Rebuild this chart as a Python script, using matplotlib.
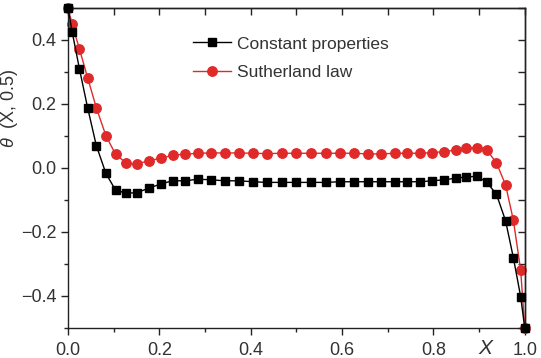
import numpy as np
import matplotlib
matplotlib.use("Agg")
import matplotlib.pyplot as plt
from matplotlib.ticker import MultipleLocator

plt.rcParams['font.family'] = ['Liberation Sans', 'DejaVu Sans']
plt.rcParams['mathtext.fontset'] = 'custom'
plt.rcParams['mathtext.it'] = 'Liberation Sans:italic'

# grid along X (clustered towards both walls)
X = [0.0, 0.009, 0.025, 0.043, 0.062, 0.083, 0.104, 0.128, 0.151, 0.177,
     0.203, 0.229, 0.257, 0.284, 0.314, 0.343, 0.374, 0.405, 0.436, 0.468,
     0.5, 0.532, 0.564, 0.595, 0.626, 0.657, 0.686, 0.716, 0.743, 0.771,
     0.797, 0.823, 0.849, 0.872, 0.896, 0.917, 0.938, 0.958, 0.975, 0.991, 1.0]

theta_const = [0.5, 0.426, 0.31, 0.188, 0.07, -0.017, -0.069, -0.079, -0.077, -0.063,
               -0.05, -0.04, -0.04, -0.035, -0.037, -0.04, -0.04, -0.043, -0.045, -0.045,
               -0.045, -0.045, -0.045, -0.043, -0.043, -0.043, -0.043, -0.043, -0.043, -0.043,
               -0.040, -0.037, -0.032, -0.028, -0.026, -0.045, -0.082, -0.165, -0.28, -0.402, -0.5]

theta_suth = [0.5, 0.45, 0.372, 0.282, 0.188, 0.101, 0.043, 0.015, 0.0125, 0.023,
              0.030, 0.040, 0.043, 0.046, 0.047, 0.047, 0.047, 0.046, 0.045, 0.046,
              0.046, 0.046, 0.046, 0.046, 0.046, 0.044, 0.044, 0.046, 0.046, 0.046,
              0.048, 0.051, 0.056, 0.061, 0.064, 0.056, 0.016, -0.053, -0.163, -0.319, -0.5]

fig = plt.figure(figsize=(5.41, 3.58), dpi=100)
ax = fig.add_axes([0.1257, 0.0838, 0.8443, 0.8939])

ax.plot(X, theta_const, color='black', lw=1.0, marker='s', ms=5.5,
        label='Constant properties', clip_on=False, zorder=3)
ax.plot(X, theta_suth, color='#e02a2a', lw=1.0, marker='o', ms=6.8,
        label='Sutherland law', clip_on=False, zorder=2)

ax.set_xlim(0, 1.0)
ax.set_ylim(-0.5, 0.5)
ax.xaxis.set_minor_locator(MultipleLocator(0.1))
ax.yaxis.set_minor_locator(MultipleLocator(0.1))
ax.set_xticks([0.0, 0.2, 0.4, 0.6, 0.8, 1.0])
ax.set_xticklabels(['0.0', '0.2', '0.4', '0.6', '0.8', '1.0'])
ax.set_yticks([-0.4, -0.2, 0.0, 0.2, 0.4])
ax.set_yticklabels(['\u22120.4', '\u22120.2', '0.0', '0.2', '0.4'])

ax.tick_params(which='major', direction='out', length=5, width=1, labelsize=13,
               colors='#222222', labelcolor='#333333')
ax.tick_params(which='minor', direction='out', length=3, width=1, colors='#222222')
ax.tick_params(axis='x', pad=5)

# inward ticks on the top and right edges
top = ax.secondary_xaxis('top')
top.xaxis.set_major_locator(MultipleLocator(0.1))
top.tick_params(direction='in', length=5, width=1, labeltop=False, colors='#222222')
right = ax.secondary_yaxis('right')
right.yaxis.set_major_locator(MultipleLocator(0.1))
right.tick_params(direction='in', length=5, width=1, labelright=False, colors='#222222')

for s in list(ax.spines.values()) + [top.spines['top'], right.spines['right']]:
    s.set_linewidth(1.0)
    s.set_color('#222222')

ax.set_ylabel(r'$\theta\ $ (X, 0.5)', fontsize=13, color='#333333')
ax.yaxis.set_label_coords(-0.105, 0.6875)
fig.text(0.884, 0.01, 'X', fontsize=15, style='italic', color='#333333')

ax.legend(loc='upper left', bbox_to_anchor=(0.24, 0.96), frameon=False,
          fontsize=12.5, handlelength=2.2, handletextpad=0.3, labelspacing=0.75,
          labelcolor='#333333')

fig.savefig('out.png', dpi=100)
